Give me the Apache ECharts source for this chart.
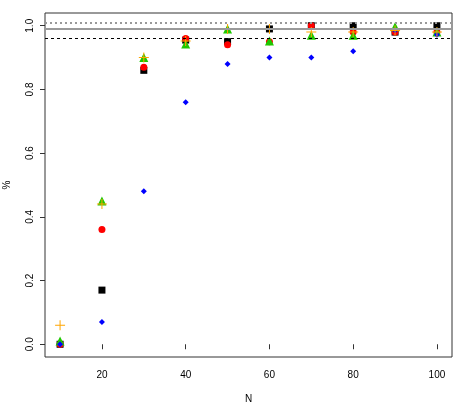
<!DOCTYPE html>
<html>
<head>
<meta charset="utf-8">
<script src="https://cdn.jsdelivr.net/npm/echarts@6/dist/echarts.min.js"></script>
<style>
  html, body { margin: 0; padding: 0; background: #fff; }
  #chart { width: 463px; height: 404px; }
</style>
</head>
<body>
<div id="chart"></div>
<script>
const sizes = [10, 20, 30, 40, 50, 60, 70, 80, 90, 100]
const blackVals = [0, 0.17, 0.86, 0.955, 0.95, 0.99, 1.0, 1.0, 0.98, 1.0]
const redVals = [0, 0.36, 0.87, 0.96, 0.94, 0.95, 1.0, 0.98, 0.98, 0.98]
const greenVals = [0.01, 0.45, 0.90, 0.943, 0.99, 0.952, 0.97, 0.97, 0.997, 0.98]
const blueVals = [0, 0.07, 0.48, 0.76, 0.88, 0.90, 0.90, 0.92, 0.985, 0.972]
const orangeVals = [0.06, 0.44, 0.90, 0.952, 0.99, 0.99, 0.98, 0.98, 0.985, 0.98]
const xTicks = [20, 40, 60, 80, 100]
const yTicks = [0, 0.2, 0.4, 0.6, 0.8, 1.0]
const refLines = [1.015, 0.99, 0.965]

const pairs = (vals) => sizes.map((n, i) => [n, vals[i]])
const plusPath = 'path://M-0.1,-1 H0.1 V-0.1 H1 V0.1 H0.1 V1 H-0.1 V0.1 H-1 V-0.1 H-0.1 Z'
const font = 'Liberation Sans, Arial, sans-serif'

const myChart = echarts.init(document.getElementById('chart'))
const option = {
  backgroundColor: '#fff',
  animation: false,
  grid: {
    left: 45,
    right: 11,
    top: 13,
    bottom: 47,
    containLabel: false,
    outerBoundsMode: 'none',
    show: true,
    borderColor: '#333',
    borderWidth: 1,
    backgroundColor: 'transparent'
  },
  xAxis: {
    type: 'value',
    min: 6.4,
    max: 103.6,
    name: 'N',
    nameLocation: 'middle',
    nameGap: 37,
    nameTextStyle: { fontFamily: font, fontSize: 10, color: '#000' },
    axisLine: { show: false },
    splitLine: { show: false },
    axisTick: {
      show: true,
      length: 5,
      customValues: xTicks,
      lineStyle: { color: '#333' }
    },
    axisLabel: {
      customValues: xTicks,
      margin: 13,
      fontFamily: font,
      fontSize: 10,
      color: '#000'
    }
  },
  yAxis: {
    type: 'value',
    min: -0.04,
    max: 1.04,
    name: '%',
    nameLocation: 'middle',
    nameGap: 33,
    nameRotate: 90,
    nameTextStyle: { fontFamily: font, fontSize: 10, color: '#000' },
    axisLine: { show: false },
    splitLine: { show: false },
    axisTick: {
      show: true,
      length: 5,
      customValues: yTicks,
      lineStyle: { color: '#333' }
    },
    axisLabel: {
      customValues: yTicks,
      rotate: 90,
      margin: 10,
      fontFamily: font,
      fontSize: 10,
      color: '#000',
      formatter: (v) => v.toFixed(1)
    }
  },
  series: [
    {
      name: 'black',
      type: 'scatter',
      symbol: 'rect',
      symbolSize: 7,
      itemStyle: { color: '#000', opacity: 1 },
      data: pairs(blackVals),
      markLine: {
        silent: true,
        symbol: 'none',
        label: { show: false },
        data: [
          { yAxis: refLines[0], lineStyle: { color: '#999', width: 2, type: [2, 3] } },
          { yAxis: refLines[1], lineStyle: { color: '#999', width: 2, type: 'solid' } },
          { yAxis: refLines[2], lineStyle: { color: '#000', width: 1, type: [3, 3] } }
        ]
      }
    },
    {
      name: 'red',
      type: 'scatter',
      symbol: 'circle',
      symbolSize: 7,
      itemStyle: { color: '#ff0000', opacity: 1 },
      data: pairs(redVals)
    },
    {
      name: 'green',
      type: 'scatter',
      symbol: 'triangle',
      symbolSize: 9,
      itemStyle: { color: '#1ec800', opacity: 1 },
      data: pairs(greenVals)
    },
    {
      name: 'blue',
      type: 'scatter',
      symbol: 'diamond',
      symbolSize: 6,
      itemStyle: { color: '#0000ff', opacity: 1 },
      data: pairs(blueVals)
    },
    {
      name: 'orange',
      type: 'scatter',
      symbol: plusPath,
      symbolSize: 10,
      itemStyle: { color: '#ffa500', opacity: 1 },
      data: pairs(orangeVals)
    }
  ]
}

option && myChart.setOption(option)
</script>
</body>
</html>
